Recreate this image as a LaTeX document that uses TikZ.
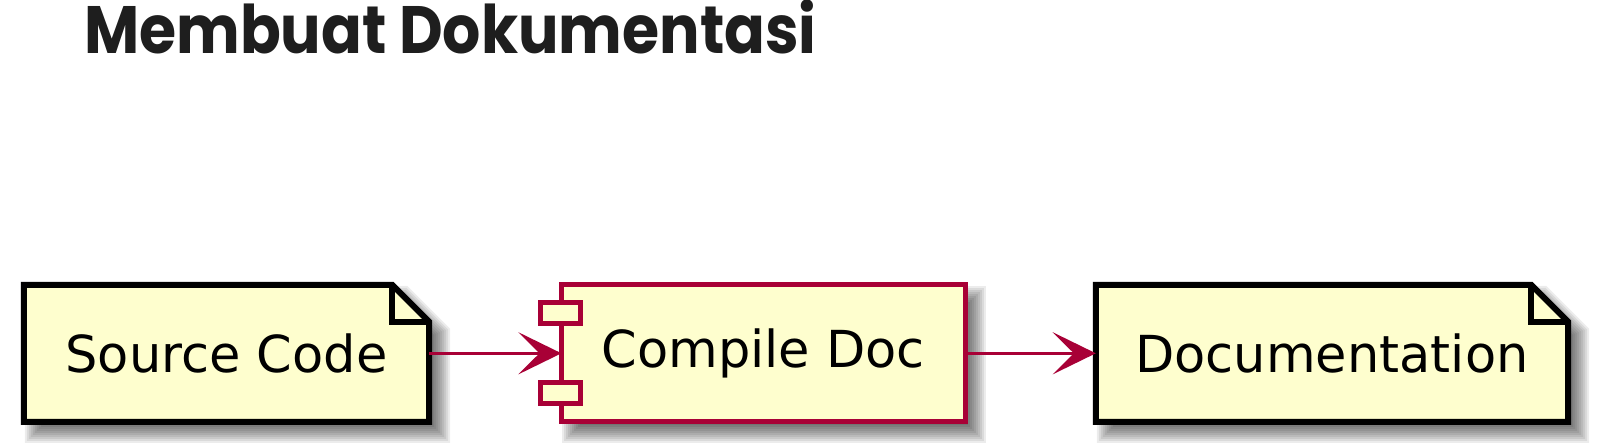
\documentclass[tikz,border=0pt]{standalone}
\usepackage{fontspec}
\newfontfamily\titlefont{Poppins}
\newfontfamily\boxfont{DejaVu Sans}
\usetikzlibrary{arrows.meta,calc}
\definecolor{umlfill}{HTML}{FEFECE}
\definecolor{umlred}{HTML}{A80036}
\definecolor{titlegray}{HTML}{1E1E1E}
\pgfdeclarelayer{background}
\pgfsetlayers{background,main}
\begin{document}
\begin{tikzpicture}[x=1pt,y=-1pt,
  boxnode/.style={minimum height=136.7pt, inner sep=0pt, font=\boxfont\fontsize{51}{60}\selectfont, text=black},
  conn/.style={umlred, line width=3.5pt, -{Stealth[length=43pt,width=42pt,inset=21pt]}},
  noteline/.style={black, line width=6pt, line join=miter},
  cmpline/.style={umlred, line width=5pt},
  shade/.style={fill=black, opacity=0.075},
  notepath/.style={insert path={(#1.north west) -- ($(#1.north east)+(-37,0)$) -- ($(#1.north east)+(0,37)$) -- (#1.south east) -- (#1.south west) -- cycle}},
  noteshadow/.style 2 args={insert path={($(#1.north west)+(11-#2,11-#2)$) -- ($(#1.north east)+(-26+0.4*#2,11-#2)$) -- ($(#1.north east)+(11+#2,48-0.4*#2)$) -- ($(#1.south east)+(11+#2,11+#2)$) -- ($(#1.south west)+(11-#2,11+#2)$) -- cycle}},
  rectshadow/.style 2 args={insert path={($(#1.north west)+(11-#2,11-#2)$) rectangle ($(#1.south east)+(11+#2,11+#2)$)}}
]
\useasboundingbox (0,0) rectangle (1601,447);

% title
\node[anchor=base west, inner sep=0pt, font=\titlefont\bfseries\fontsize{67}{80}\selectfont, text=titlegray] (title) at (84,53.3) {\scalebox{0.897}[1]{Membuat Dokumentasi}};

% nodes
\node[boxnode, minimum width=405pt] (src) at (226.5,353.3) {Source Code};
\node[boxnode, minimum width=403.3pt] (cmp) at (763.3,353.3) {Compile Doc};
\node[boxnode, minimum width=472pt] (doc) at (1332,353.3) {Documentation};

\begin{pgfonlayer}{background}
  \fill[white] (0,0) rectangle (1601,447);
  \foreach \r in {10,8,6,4,2,0,-2,-4,-6,-8} {
    \path[shade, noteshadow={src}{\r}];
    \path[shade, rectshadow={cmp}{\r}];
    \path[shade, noteshadow={doc}{\r}];
  }
  \path[fill=umlfill, notepath=src];
  \path[fill=umlfill] (cmp.north west) rectangle (cmp.south east);
  \path[fill=umlfill, notepath=doc];
\end{pgfonlayer}

% note outlines
\draw[noteline, notepath=src];
\draw[noteline] ($(src.north east)+(-37,0)$) -- ($(src.north east)+(-37,37)$) -- ($(src.north east)+(0,37)$);
\draw[noteline, notepath=doc];
\draw[noteline] ($(doc.north east)+(-37,0)$) -- ($(doc.north east)+(-37,37)$) -- ($(doc.north east)+(0,37)$);

% component outline
\draw[cmpline] (cmp.north west) rectangle (cmp.south east);
\draw[cmpline, fill=umlfill] ($(cmp.north west)+(-21,17.3)$) rectangle ($(cmp.north west)+(19,38.3)$);
\draw[cmpline, fill=umlfill] ($(cmp.south west)+(-21,-39.7)$) rectangle ($(cmp.south west)+(19,-18.7)$);

% connectors
\draw[conn] (src.east) -- (cmp.west);
\draw[conn] (cmp.east) -- (doc.west);
\end{tikzpicture}
\end{document}
